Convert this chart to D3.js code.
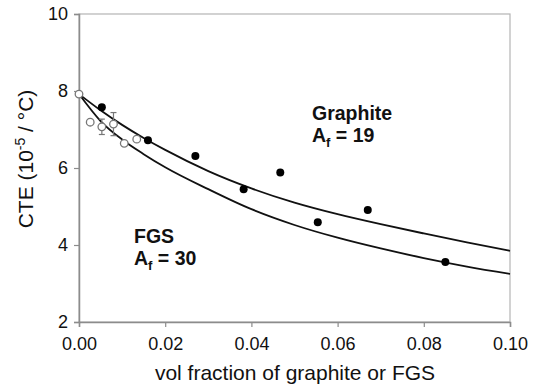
<!DOCTYPE html>
<html><head><meta charset="utf-8">
<script src="https://cdn.jsdelivr.net/npm/d3@7"></script>
<style>body{margin:0;background:#fff}svg{display:block;font-family:"Liberation Sans",Arial,sans-serif}</style>
</head><body><svg id="c" width="539" height="391"></svg>
<script>
// Graphite measured (filled)
const graphiteX = [0.0053, 0.016, 0.027, 0.0382, 0.0467, 0.0554, 0.067, 0.085];
const graphiteY = [7.58, 6.72, 6.31, 5.45, 5.88, 4.59, 4.91, 3.56];
// FGS measured (open)
const fgsX = [0.0, 0.0026, 0.0053, 0.008, 0.0105, 0.0134];
const fgsY = [7.92, 7.19, 7.07, 7.14, 6.64, 6.75];
const fgsErr = [0, 0, 0.2, 0.3, 0, 0];
// Model curves
const curveX = [0, 0.005, 0.01, 0.015, 0.02, 0.03, 0.04, 0.05, 0.06, 0.07, 0.08, 0.09, 0.10];
const curveGraphite = [7.92, 7.50, 7.12, 6.78, 6.47, 5.92, 5.47, 5.10, 4.80, 4.54, 4.30, 4.07, 3.85];
const curveFGS = [7.92, 7.22, 6.74, 6.36, 6.02, 5.45, 4.93, 4.52, 4.19, 3.91, 3.66, 3.44, 3.25];
const xTicks = [0, 0.02, 0.04, 0.06, 0.08, 0.10];
const yTicks = [2, 4, 6, 8, 10];

const svg = d3.select("#c");
const x = d3.scaleLinear().domain([0, 0.1]).range([79, 510]);
const y = d3.scaleLinear().domain([2, 10]).range([322, 14]);

// frame (top/right)
svg.append("rect").attr("x", x(0)).attr("y", y(10)).attr("width", x(0.1) - x(0)).attr("height", y(2) - y(10))
  .attr("fill", "none").attr("stroke", "#b4b4b4").attr("stroke-width", 1.2);

const xAxis = svg.append("g").attr("transform", `translate(0,${y(2)})`)
  .call(d3.axisBottom(x).tickValues(xTicks).tickFormat(d3.format(".2f")).tickSize(5).tickPadding(10));
const yAxis = svg.append("g").attr("transform", `translate(${x(0)},0)`)
  .call(d3.axisLeft(y).tickValues(yTicks).tickFormat(d3.format("d")).tickSize(5).tickPadding(6));
[xAxis, yAxis].forEach(g => {
  g.select(".domain").attr("stroke", "#8c8c8c").attr("stroke-width", 1.5);
  g.selectAll(".tick line").attr("stroke", "#8c8c8c").attr("stroke-width", 1.2);
  g.selectAll(".tick text").attr("fill", "#111").attr("font-size", 18).attr("font-family", "Liberation Sans, Arial, sans-serif");
});

// curves
const line = d3.line().x(d => x(d[0])).y(d => y(d[1])).curve(d3.curveMonotoneX);
[curveGraphite, curveFGS].forEach(cv => {
  svg.append("path").datum(curveX.map((v, i) => [v, cv[i]])).attr("d", line)
    .attr("fill", "none").attr("stroke", "#111").attr("stroke-width", 1.8);
});

// error bars
fgsX.forEach((v, i) => {
  if (!fgsErr[i]) return;
  const g = svg.append("g").attr("stroke", "#777").attr("stroke-width", 1.2);
  g.append("line").attr("x1", x(v)).attr("x2", x(v)).attr("y1", y(fgsY[i] - fgsErr[i])).attr("y2", y(fgsY[i] + fgsErr[i]));
  [-1, 1].forEach(s => g.append("line").attr("x1", x(v) - 3).attr("x2", x(v) + 3)
    .attr("y1", y(fgsY[i] + s * fgsErr[i])).attr("y2", y(fgsY[i] + s * fgsErr[i])));
});
// open circles
svg.selectAll(".fgs").data(fgsX).enter().append("circle")
  .attr("cx", d => x(d)).attr("cy", (d, i) => y(fgsY[i])).attr("r", 3.8)
  .attr("fill", "#fff").attr("stroke", "#777").attr("stroke-width", 1.3);
// filled circles
svg.selectAll(".gr").data(graphiteX).enter().append("circle")
  .attr("cx", d => x(d)).attr("cy", (d, i) => y(graphiteY[i])).attr("r", 4).attr("fill", "#000");

// annotations
function label(tx, ty, name, val) {
  svg.append("text").attr("x", tx).attr("y", ty).attr("font-size", 19.5).attr("font-weight", "bold").attr("fill", "#111").text(name);
  const t2 = svg.append("text").attr("x", tx).attr("y", ty + 22).attr("font-size", 19.5).attr("font-weight", "bold").attr("fill", "#111");
  t2.append("tspan").text("A");
  t2.append("tspan").attr("font-size", 13).attr("dy", 5).text("f");
  t2.append("tspan").attr("dy", -5).text(" = " + val);
}
label(312, 120, "Graphite", "19");
label(134, 243, "FGS", "30");

// axis titles
svg.append("text").attr("x", 295).attr("y", 380).attr("text-anchor", "middle").attr("font-size", 21).attr("fill", "#111")
  .text("vol fraction of graphite or FGS");
const yt = svg.append("text").attr("transform", "translate(33,159) rotate(-90)").attr("text-anchor", "middle").attr("font-size", 21).attr("fill", "#111");
yt.append("tspan").text("CTE (10");
yt.append("tspan").attr("font-size", 14).attr("dy", -8).text("-5");
yt.append("tspan").attr("dy", 8).text(" / °C)");
</script></body></html>
